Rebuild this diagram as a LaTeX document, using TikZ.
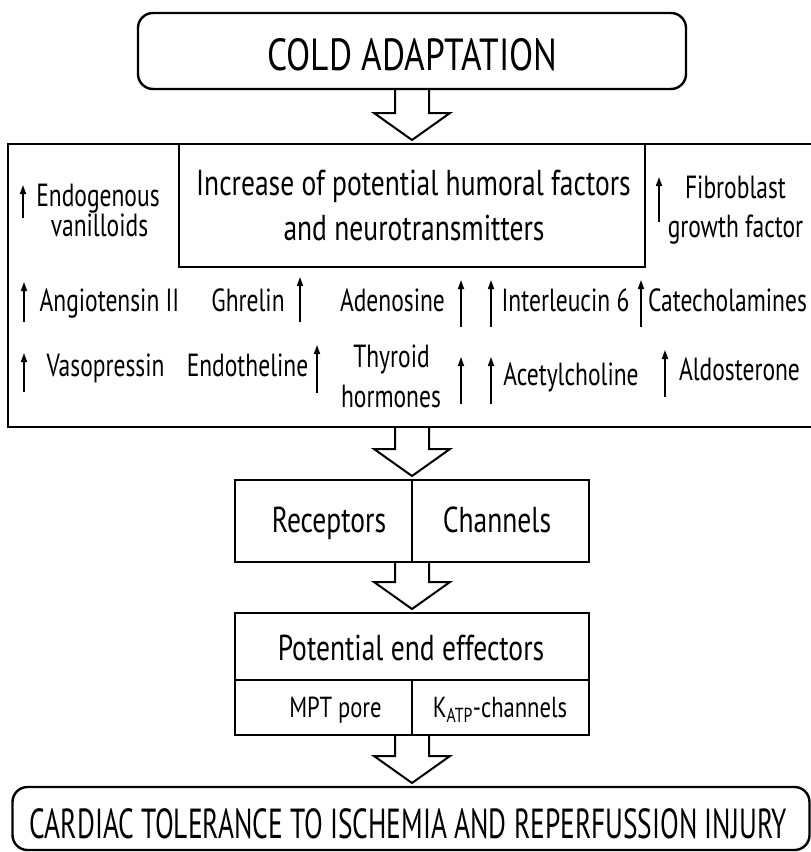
\documentclass[tikz,border=0pt]{standalone}
\usepackage{fontspec}
\setmainfont{PT Sans}
\newfontfamily\fBig[FakeStretch=0.785]{PT Sans}
\newfontfamily\fMain[FakeStretch=0.765]{PT Sans}
\newfontfamily\fItem[FakeStretch=0.735]{PT Sans}
\newfontfamily\fSmall[FakeStretch=0.78]{PT Sans}
\newfontfamily\fBot[FakeStretch=0.652]{PT Sans}
\usetikzlibrary{arrows.meta,calc}
\newcommand\harrow[2]{%
  \draw[hollow] let \p1=(#1), \p2=(#2) in
    (\x1-17pt,\y1) -- (\x1-17pt,\y2+31pt) -- (\x1-38pt,\y2+31pt) -- (\x1,\y2+4pt)
    -- (\x1+38pt,\y2+31pt) -- (\x1+17pt,\y2+31pt) -- (\x1+17pt,\y1);}
\begin{document}
\begin{tikzpicture}[x=1pt,y=-1pt,
  box/.style={draw, line width=2.4pt, inner sep=0pt, outer sep=0pt},
  rbox/.style={box, rounded corners=15pt},
  lbl/.style={anchor=base, inner sep=0pt},
  fbig/.style={font=\fBig\fontsize{45}{54}\selectfont},
  fmain/.style={font=\fMain\fontsize{36}{44}\selectfont},
  fitem/.style={font=\fItem\fontsize{32}{38}\selectfont},
  fsmall/.style={font=\fSmall\fontsize{29}{34}\selectfont},
  fbot/.style={font=\fBot\fontsize{42}{48}\selectfont},
  hollow/.style={draw, line width=2pt, line join=miter},
  up/.style={line width=1.6pt, -{Triangle[length=9pt,width=6pt]}}
]
\useasboundingbox (0,0) rectangle (811,852);

% boxes
\node[rbox, minimum width=548pt, minimum height=76pt] (top) at (412,51) {};
\node[box, minimum width=808pt, minimum height=283pt] (big) at (412,285.5) {};
\node[box, minimum width=466pt, minimum height=123pt] (inner) at (412,205.5) {};
\node[box, minimum width=177pt, minimum height=82pt] (rec) at (323.5,521) {};
\node[box, minimum width=177pt, minimum height=82pt] (chan) at (500.5,521) {};
\node[box, minimum width=354pt, minimum height=67pt] (ee) at (412,646.5) {};
\node[box, minimum width=177pt, minimum height=55pt] (mpt) at (323.5,707.5) {};
\node[box, minimum width=177pt, minimum height=55pt] (katp) at (500.5,707.5) {};
\node[rbox, minimum width=797pt, minimum height=63pt] (bot) at (411,818.5) {};

% labels
\node[lbl, fbig] (tcold) at (412.5,70) {COLD ADAPTATION};
\node[lbl, fmain] (tinc1) at (413.5,195) {Increase of potential humoral factors};
\node[lbl, fmain] (tinc2) at (414,240) {and neurotransmitters};
\node[lbl, fitem] (tendo1) at (98,206) {Endogenous};
\node[lbl, fitem] (tendo2) at (99.5,236) {vanilloids};
\node[lbl, fitem] (tfib1) at (735.5,198) {Fibroblast};
\node[lbl, fitem] (tfib2) at (735.5,237) {growth factor};
\node[lbl, fitem] (tang) at (109.5,311) {Angiotensin II};
\node[lbl, fitem] (tghr) at (248,311) {Ghrelin};
\node[lbl, fitem] (tade) at (392.5,311) {Adenosine};
\node[lbl, fitem] (tint) at (565.5,311) {Interleucin 6};
\node[lbl, fitem] (tcat) at (727.5,311) {Catecholamines};
\node[lbl, fitem] (tvas) at (105.5,376) {Vasopressin};
\node[lbl, fitem] (tend) at (247.5,376) {Endotheline};
\node[lbl, fitem] (tthy1) at (391.5,367) {Thyroid};
\node[lbl, fitem] (tthy2) at (391,407) {hormones};
\node[lbl, fitem] (tace) at (571,385) {Acetylcholine};
\node[lbl, fitem] (tald) at (739.5,380) {Aldosterone};
\node[lbl, fmain] (trec) at (329,532) {Receptors};
\node[lbl, fmain] (tchan) at (497,532) {Channels};
\node[lbl, fmain] (tee) at (411,660) {Potential end effectors};
\node[lbl, fsmall] (tmpt) at (335.5,717) {MPT pore};
\node[lbl, fsmall] (tkatp) at (500,717) {K\textsubscript{ATP}-channels};
\node[lbl, fbot] (tbot) at (408.5,838) {CARDIAC TOLERANCE TO ISCHEMIA AND REPERFUSSION INJURY};

% small up arrows
\draw[up] (23,218) -- (23,185);
\draw[up] (659,222) -- (659,177);
\draw[up] (24,322) -- (24,282);
\draw[up] (300,322) -- (300,277);
\draw[up] (461,327) -- (461,280);
\draw[up] (491,327) -- (491,280);
\draw[up] (641,327) -- (641,280);
\draw[up] (24,392) -- (24,353);
\draw[up] (317,393) -- (317,345);
\draw[up] (461,404) -- (461,357);
\draw[up] (491,404) -- (491,357);
\draw[up] (665,397) -- (665,350);

% hollow block arrows
\harrow{top.south}{big.north}
\harrow{big.south}{rec.north east}
\harrow{rec.south east}{ee.north}
\harrow{mpt.south east}{bot.north}
\end{tikzpicture}
\end{document}
